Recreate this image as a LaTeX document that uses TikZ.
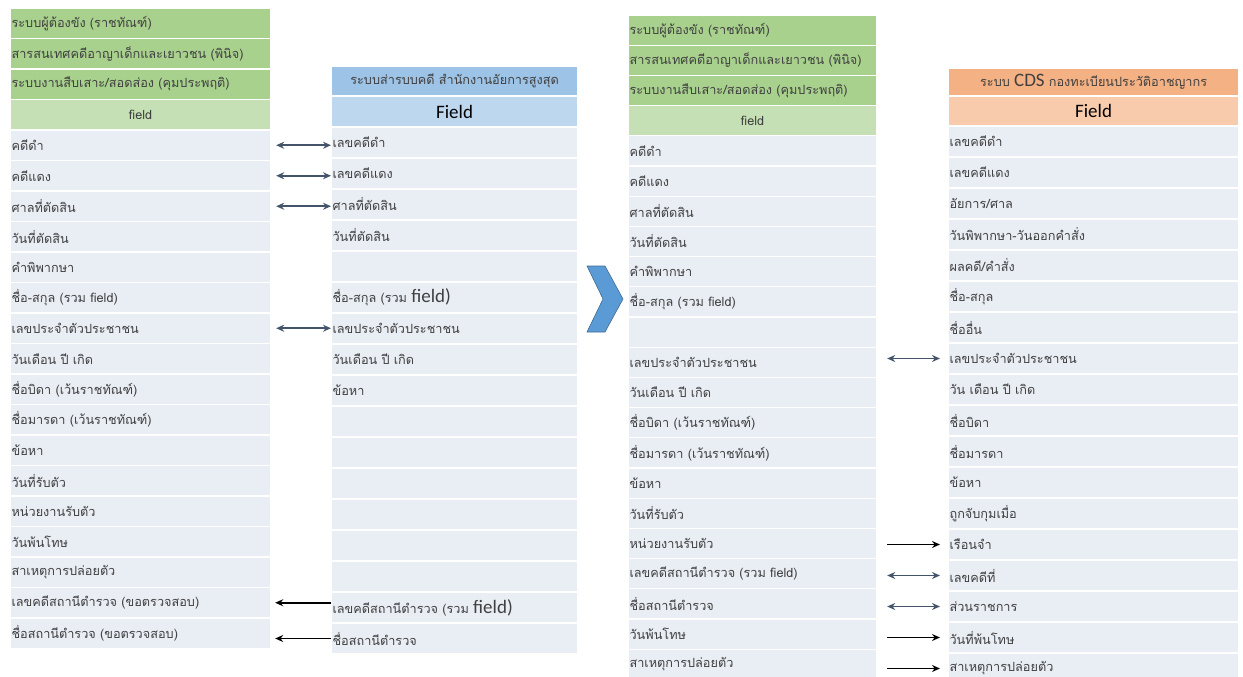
\documentclass[tikz,border=0pt]{standalone}
\usepackage{fontspec}
\setmainfont{Loma}[Script=Thai]
\newfontfamily\cali{Carlito}
\usetikzlibrary{arrows.meta}
\definecolor{hdgreen}{HTML}{A9D18E}
\definecolor{fdgreen}{HTML}{C5E0B4}
\definecolor{hdblue}{HTML}{9DC3E6}
\definecolor{fdblue}{HTML}{BDD7EE}
\definecolor{hdorange}{HTML}{F4B183}
\definecolor{fdorange}{HTML}{F8CBAD}
\definecolor{rowbg}{HTML}{E9EDF4}
\definecolor{slate}{HTML}{44546A}
\definecolor{chev}{HTML}{5B9BD5}
\definecolor{txt}{HTML}{404040}
\newcommand\bigf{\cali\fontsize{19}{20}\selectfont}
\tikzset{
	cell/.style={draw=white, line width=1.2pt, fill=rowbg, anchor=west, inner xsep=1pt, inner ysep=0pt,
		align=left, text=txt, font=\fontsize{12.7}{15}\selectfont},
	taba/.style={cell, text width=258pt, minimum height=30.5pt},
	tabb/.style={cell, text width=244pt, minimum height=31pt},
	tabc/.style={cell, text width=246pt, minimum height=30.2pt},
	tabd/.style={cell, text width=288pt, minimum height=31pt},
	link/.style={slate, line width=1.8pt, {Stealth[length=8pt,width=7pt]}-{Stealth[length=8pt,width=7pt]}},
	push/.style={black, line width=1.8pt, -{Stealth[length=8pt,width=7pt]}}
}
\begin{document}
\begin{tikzpicture}[x=1pt,y=-1pt]
	\useasboundingbox (0,0) rectangle (1243,677);

	\node[taba, fill=hdgreen] (t1h1) at (10,23.25) {ระบบผู้ต้องขัง (ราชทัณฑ์)};
	\node[taba, fill=hdgreen] (t1h2) at (10,53.75) {สารสนเทศคดีอาญาเด็กและเยาวชน (พินิจ)};
	\node[taba, fill=hdgreen] (t1h3) at (10,84.25) {ระบบงานสืบเสาะ/สอดส่อง (คุมประพฤติ)};
	\node[taba, fill=fdgreen, align=center] (t1f) at (10,114.75) {field};
	\foreach \txt [count=\i] in {คดีดำ, คดีแดง, ศาลที่ตัดสิน, วันที่ตัดสิน, คำพิพากษา, ชื่อ-สกุล (รวม field),
		เลขประจำตัวประชาชน, วันเดือน ปี เกิด, ชื่อบิดา (เว้นราชทัณฑ์), ชื่อมารดา (เว้นราชทัณฑ์), ข้อหา,
		วันที่รับตัว, หน่วยงานรับตัว, วันพ้นโทษ, สาเหตุการปล่อยตัว, เลขคดีสถานีตำรวจ (ขอตรวจสอบ),
		ชื่อสถานีตำรวจ (ขอตรวจสอบ)}
		\node[taba] (t1r\i) at (10,130+30.5*\i-15.25) {\txt};

	\node[tabb, fill=hdblue, align=center, minimum height=30pt] (t2h) at (331,81) {ระบบส่ารบบคดี สำนักงานอัยการสูงสุด};
	\node[tabb, fill=fdblue, align=center] (t2f) at (331,111.5) {\bigf\color{black}Field};
	\foreach \txt [count=\i] in {เลขคดีดำ, เลขคดีแดง, ศาลที่ตัดสิน, วันที่ตัดสิน, {}, ชื่อ-สกุล (รวม {\bigf field)},
		เลขประจำตัวประชาชน, วันเดือน ปี เกิด, ข้อหา, {}, {}, {}, {}, {}, {},
		เลขคดีสถานีตำรวจ (รวม {\bigf field)}, ชื่อสถานีตำรวจ}
		\node[tabb] (t2r\i) at (331,127+31*\i-15.5) {\txt};

	\node[tabc, fill=hdgreen] (t3h1) at (628,30.1) {ระบบผู้ต้องขัง (ราชทัณฑ์)};
	\node[tabc, fill=hdgreen] (t3h2) at (628,60.3) {สารสนเทศคดีอาญาเด็กและเยาวชน (พินิจ)};
	\node[tabc, fill=hdgreen] (t3h3) at (628,90.5) {ระบบงานสืบเสาะ/สอดส่อง (คุมประพฤติ)};
	\node[tabc, fill=fdgreen, align=center] (t3f) at (628,120.7) {field};
	\foreach \txt [count=\i] in {คดีดำ, คดีแดง, ศาลที่ตัดสิน, วันที่ตัดสิน, คำพิพากษา, ชื่อ-สกุล (รวม field), {},
		เลขประจำตัวประชาชน, วันเดือน ปี เกิด, ชื่อบิดา (เว้นราชทัณฑ์), ชื่อมารดา (เว้นราชทัณฑ์), ข้อหา,
		วันที่รับตัว, หน่วยงานรับตัว, เลขคดีสถานีตำรวจ (รวม field), ชื่อสถานีตำรวจ, วันพ้นโทษ,
		สาเหตุการปล่อยตัว}
		\node[tabc] (t3r\i) at (628,135.8+30.2*\i-15.1) {\txt};

	\node[tabd, fill=hdorange, align=center, minimum height=28pt] (t4h) at (948,82) {ระบบ {\bigf CDS} กองทะเบียนประวัติอาชญากร};
	\node[tabd, fill=fdorange, align=center, minimum height=30pt] (t4f) at (948,111) {\bigf\color{black}Field};
	\foreach \txt [count=\i] in {เลขคดีดำ, เลขคดีแดง, อัยการ/ศาล, วันพิพากษา-วันออกคำสั่ง, ผลคดี/คำสั่ง, ชื่อ-สกุล,
		ชื่ออื่น, เลขประจำตัวประชาชน, วัน เดือน ปี เกิด, ชื่อบิดา, ชื่อมารดา, ข้อหา, ถูกจับกุมเมื่อ, เรือนจำ,
		เลขคดีที่, ส่วนราชการ, วันที่พ้นโทษ, สาเหตุการปล่อยตัว}
		\node[tabd] (t4r\i) at (948,126+31*\i-15.5) {\txt};

	\filldraw[fill=chev, draw=chev!70!black, line width=0.6pt] (587,266) -- (605,266) -- (623,299) -- (605,332) -- (587,332) -- (603,299) -- cycle;

	\foreach \i in {1,2,3,7}
		\draw[link, shorten <=5pt] (t1r\i.east) -- (t1r\i.east -| t2r\i.west);
	\draw[push, shorten >=4pt] (t1r16.east -| t2r16.west) -- (t1r16.east);
	\draw[push, shorten >=4pt] (t2r17.west) -- (t2r17.west -| t1r17.east);

	\foreach \i in {8,15,16}
		\draw[link, shorten <=10pt, shorten >=8pt] (t4r\i.west -| t3r1.east) -- (t4r\i.west);
	\foreach \i in {14,17,18}
		\draw[push, shorten <=10pt, shorten >=8pt] (t4r\i.west -| t3r1.east) -- (t4r\i.west);
\end{tikzpicture}
\end{document}
